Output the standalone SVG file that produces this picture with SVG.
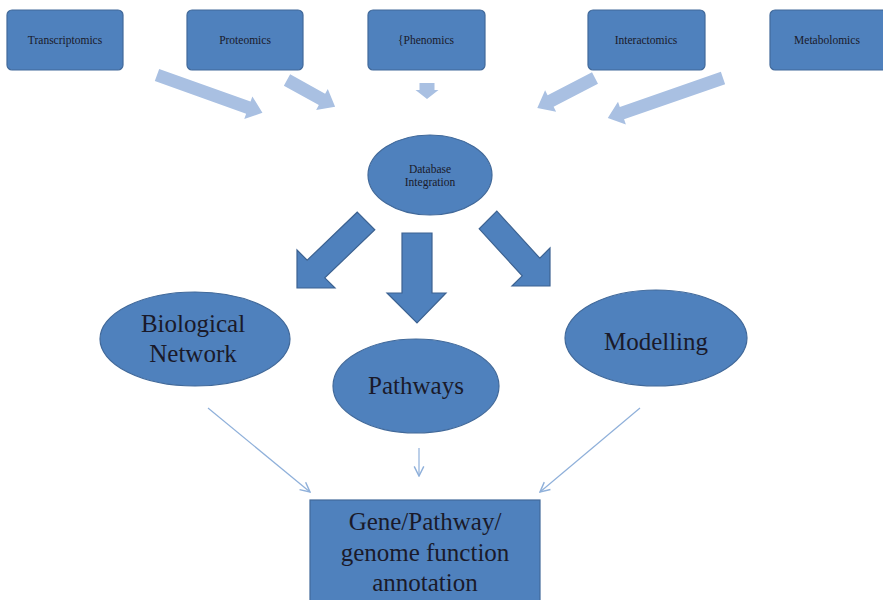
<svg xmlns="http://www.w3.org/2000/svg" width="883" height="600" viewBox="0 0 883 600">
<defs>
<style>
.box{fill:#4f81bd;stroke:#41699a;stroke-width:1.2}
.big{fill:#4f81bd;stroke:#3c6291;stroke-width:1.2}
.lt{fill:#a9c0e2}
.small{font-family:"Liberation Serif",serif;font-size:11.5px;fill:#1a1a2a;text-anchor:middle}
.mid{font-family:"Liberation Serif",serif;font-size:25px;fill:#1a1a2a;text-anchor:middle}
.thin{stroke:#8fb0da;stroke-width:1.2;fill:none;marker-end:url(#v)}
</style>
<marker id="v" viewBox="0 0 10 10" refX="9" refY="5" markerWidth="12" markerHeight="12" markerUnits="userSpaceOnUse" orient="auto">
<path d="M1,1 L9,5 L1,9" fill="none" stroke="#8fb0da" stroke-width="1.2"/>
</marker>
</defs>
<rect width="883" height="600" fill="#ffffff"/>
<g id="transcriptomics"><rect class="box" x="7" y="10" width="116" height="60" rx="5"/><text class="small" x="65" y="44">Transcriptomics</text></g>
<g id="proteomics"><rect class="box" x="187" y="10" width="116" height="60" rx="5"/><text class="small" x="245" y="44">Proteomics</text></g>
<g id="phenomics"><rect class="box" x="368" y="10" width="117" height="60" rx="5"/><text class="small" x="426" y="44">{Phenomics</text></g>
<g id="interactomics"><rect class="box" x="588" y="10" width="117" height="60" rx="5"/><text class="small" x="646" y="44">Interactomics</text></g>
<g id="metabolomics"><rect class="box" x="770" y="10" width="117" height="60" rx="5"/><text class="small" x="827" y="44">Metabolomics</text></g>
<g id="database"><ellipse class="box" cx="430" cy="175" rx="62" ry="40"/><text class="small" x="430" y="173">Database</text><text class="small" x="430" y="186">Integration</text></g>
<g id="bionet"><ellipse class="box" cx="195" cy="339" rx="95" ry="47"/><text class="mid" x="193" y="332">Biological</text><text class="mid" x="193" y="362">Network</text></g>
<g id="pathways"><ellipse class="box" cx="416" cy="386" rx="83" ry="47"/><text class="mid" x="416" y="394">Pathways</text></g>
<g id="modelling"><ellipse class="box" cx="656" cy="338" rx="91" ry="48"/><text class="mid" x="656" y="350">Modelling</text></g>
<g id="annotation"><rect class="box" x="310" y="500" width="230" height="110"/><text class="mid" x="425" y="530">Gene/Pathway/</text><text class="mid" x="425" y="561">genome function</text><text class="mid" x="425" y="591">annotation</text></g>
<g id="connectors">
<g transform="translate(157,75) rotate(19.7)"><polygon class="lt" points="0,-6.5 97,-6.5 97,-12 112,0 97,12 97,6.5 0,6.5"/></g>
<g transform="translate(287,80) rotate(29)"><polygon class="lt" points="0,-6.5 40,-6.5 40,-12 55,0 40,12 40,6.5 0,6.5"/></g>
<g transform="translate(427,83) rotate(90)"><polygon class="lt" points="0,-7.5 7,-7.5 7,-11.5 16,0 7,11.5 7,7.5 0,7.5"/></g>
<g transform="translate(595,78) rotate(152.6)"><polygon class="lt" points="0,-6.5 50,-6.5 50,-12 65,0 50,12 50,6.5 0,6.5"/></g>
<g transform="translate(723,78) rotate(160.8)"><polygon class="lt" points="0,-6.5 107,-6.5 107,-12 122,0 107,12 107,6.5 0,6.5"/></g>
<polygon class="big" points="297,288 335,288 324.8,277.8 374.8,229.8 357.2,212.2 307.2,260.2 297,250"/>
<polygon class="big" points="402,233 432,233 432,293 446,293 417,323 387,293 402,293"/>
<polygon class="big" points="550,286 512,286 522.2,275.8 479.2,228.8 496.8,211.2 539.8,258.2 550,248"/>
<line class="thin" x1="208" y1="408" x2="310" y2="492"/>
<line class="thin" x1="419" y1="448" x2="419" y2="476"/>
<line class="thin" x1="640" y1="408" x2="540" y2="492"/>
</g>
</svg>
